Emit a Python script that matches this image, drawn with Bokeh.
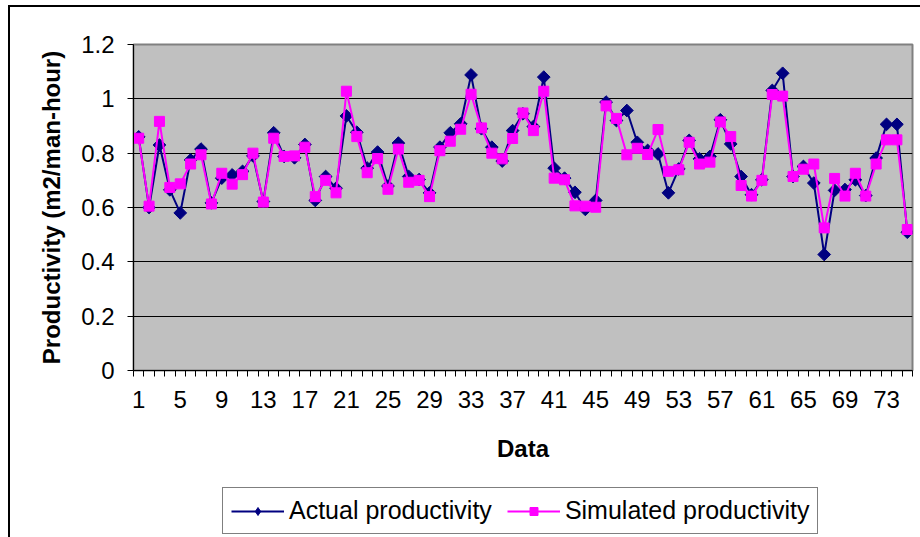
from bokeh.plotting import figure
from bokeh.layouts import column
from bokeh.models import (FixedTicker, Legend, LegendItem, Range1d, LinearAxis,
                          CustomJSTickFormatter)
from bokeh.embed import file_html
from bokeh.resources import INLINE

data_index = list(range(1, 76))
actual = [0.86, 0.60, 0.83, 0.665, 0.58, 0.775, 0.815, 0.617, 0.708, 0.72,
          0.733, 0.79, 0.622, 0.875, 0.788, 0.783, 0.832, 0.626, 0.714, 0.671,
          0.937, 0.877, 0.745, 0.804, 0.679, 0.837, 0.714, 0.703, 0.654, 0.822,
          0.875, 0.908, 1.088, 0.89, 0.822, 0.771, 0.883, 0.945, 0.898, 1.08,
          0.745, 0.708, 0.656, 0.593, 0.626, 0.988, 0.92, 0.957, 0.84, 0.81,
          0.797, 0.654, 0.742, 0.847, 0.779, 0.788, 0.923, 0.834, 0.714, 0.647,
          0.702, 1.031, 1.094, 0.714, 0.751, 0.69, 0.427, 0.663, 0.666, 0.702,
          0.644, 0.782, 0.906, 0.906, 0.509]
simulated = [0.855, 0.605, 0.917, 0.674, 0.687, 0.76, 0.794, 0.613, 0.726, 0.686,
             0.721, 0.80, 0.62, 0.855, 0.788, 0.79, 0.822, 0.64, 0.70, 0.654,
             1.028, 0.861, 0.728, 0.78, 0.667, 0.815, 0.693, 0.70, 0.64, 0.809,
             0.844, 0.888, 1.017, 0.893, 0.80, 0.779, 0.854, 0.948, 0.883, 1.028,
             0.708, 0.702, 0.606, 0.605, 0.601, 0.974, 0.928, 0.794, 0.818, 0.795,
             0.887, 0.733, 0.739, 0.84, 0.76, 0.767, 0.915, 0.861, 0.681, 0.642,
             0.70, 1.016, 1.01, 0.714, 0.741, 0.76, 0.525, 0.707, 0.642, 0.726,
             0.642, 0.76, 0.849, 0.849, 0.519]
x_tick_labels = [1, 5, 9, 13, 17, 21, 25, 29, 33, 37, 41, 45, 49, 53, 57, 61, 65, 69, 73]
y_ticks = [0, 0.2, 0.4, 0.6, 0.8, 1.0, 1.2]
series_names = ["Actual productivity", "Simulated productivity"]

FONT = "Liberation Sans"
NAVY = "#000080"
MAGENTA = "#ff00ff"
FS = "24px"

p = figure(width=910, height=463, output_backend="svg", toolbar_location=None,
           x_range=Range1d(0.5, 75.5), y_range=Range1d(0, 1.2),
           min_border_left=123, min_border_right=8, min_border_top=37,
           min_border_bottom=100)
p.background_fill_color = "#c0c0c0"
p.border_fill_color = "white"
p.outline_line_color = "#808080"
p.outline_line_width = 2

p.xgrid.visible = False
p.ygrid.ticker = FixedTicker(ticks=y_ticks)
p.ygrid.grid_line_color = "black"
p.ygrid.grid_line_width = 1

# y axis
yax = p.yaxis[0]
yax.ticker = FixedTicker(ticks=y_ticks, minor_ticks=[])
yax.formatter = CustomJSTickFormatter(code="return String(Math.round(tick*10)/10)")
yax.major_tick_out = 6
yax.major_tick_in = 0
yax.axis_line_color = "black"
yax.major_tick_line_color = "black"
yax.major_label_text_font = FONT
yax.major_label_text_font_size = FS
yax.major_label_text_color = "black"
yax.major_label_standoff = 13
yax.axis_label = "Productivity (m2/man-hour)"
yax.axis_label_text_font = FONT
yax.axis_label_text_font_style = "bold"
yax.axis_label_text_font_size = FS
yax.axis_label_text_color = "black"
yax.axis_label_standoff = 13

# x axis: category boundary tick marks
boundaries = [i + 0.5 for i in range(0, 76)]
tick_axis = p.xaxis[0]
tick_axis.ticker = FixedTicker(ticks=boundaries, minor_ticks=[])
tick_axis.formatter = CustomJSTickFormatter(code="return ''")
tick_axis.major_label_text_font_size = "1px"
tick_axis.major_label_standoff = 0
tick_axis.major_tick_out = 6
tick_axis.major_tick_in = 0
tick_axis.major_tick_line_color = "black"
tick_axis.axis_line_color = "black"

# x axis: category labels
lab_axis = LinearAxis(ticker=FixedTicker(ticks=x_tick_labels, minor_ticks=[]),
                      formatter=CustomJSTickFormatter(code="return String(Math.round(tick))"))
lab_axis.axis_line_color = None
lab_axis.major_tick_line_color = None
lab_axis.minor_tick_line_color = None
lab_axis.major_tick_out = 0
lab_axis.major_tick_in = 0
lab_axis.major_label_text_font = FONT
lab_axis.major_label_text_font_size = FS
lab_axis.major_label_text_color = "black"
lab_axis.major_label_standoff = 14
lab_axis.axis_label = "Data"
lab_axis.axis_label_text_font = FONT
lab_axis.axis_label_text_font_style = "bold"
lab_axis.axis_label_text_font_size = FS
lab_axis.axis_label_text_color = "black"
lab_axis.axis_label_standoff = 24
p.add_layout(lab_axis, "below")

p.line(data_index, actual, line_color=NAVY, line_width=2)
p.scatter(data_index, actual, marker="square", angle=0.785398, size=9,
          fill_color=NAVY, line_color=NAVY)
p.line(data_index, simulated, line_color=MAGENTA, line_width=2)
p.scatter(data_index, simulated, marker="square", size=10,
          fill_color=MAGENTA, line_color=MAGENTA)

# legend strip below the chart (same series, drawn out of view; only the key shows)
lf = figure(width=910, height=67, output_backend="svg", toolbar_location=None,
            x_axis_type=None, y_axis_type=None, min_border=0,
            x_range=Range1d(-10, -9), y_range=Range1d(0, 1))
lf.outline_line_color = None
lf.background_fill_color = "white"
lf.border_fill_color = "white"
lf.grid.visible = False
la = lf.line(data_index, actual, line_color=NAVY, line_width=2)
sa = lf.scatter(data_index, actual, marker="diamond", size=13,
                fill_color=NAVY, line_color=NAVY)
ls = lf.line(data_index, simulated, line_color=MAGENTA, line_width=2)
ss = lf.scatter(data_index, simulated, marker="square", size=10,
                fill_color=MAGENTA, line_color=MAGENTA)

legend = Legend(items=[LegendItem(label=series_names[0], renderers=[la, sa]),
                       LegendItem(label=series_names[1], renderers=[ls, ss])],
                orientation="horizontal", location=(89, 3))
legend.label_text_font = FONT
legend.label_text_font_size = "25px"
legend.label_text_color = "black"
legend.border_line_color = "black"
legend.border_line_width = 1
legend.background_fill_color = "white"
legend.background_fill_alpha = 1
legend.padding = 8
legend.spacing = 15
legend.glyph_width = 53
legend.label_standoff = 5
legend.margin = 0
lf.add_layout(legend, "center")

layout = column(p, lf, spacing=0,
                styles={"margin-left": "8px", "margin-top": "5px",
                        "border-left": "2px solid black",
                        "border-top": "2px solid black"})

open("out.html", "w").write(file_html(layout, INLINE))
